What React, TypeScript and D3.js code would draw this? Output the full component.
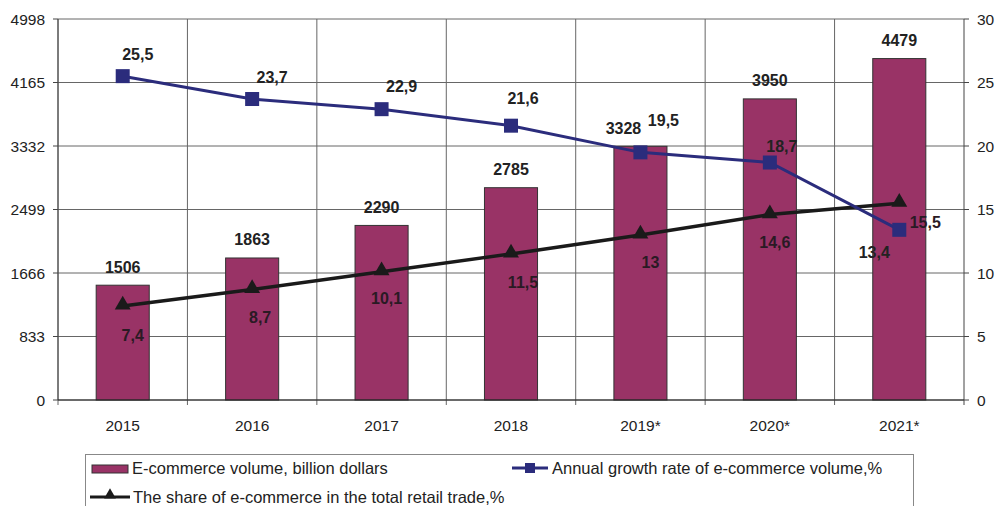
import React from 'react';
import * as d3 from 'd3';

const years = ['2015', '2016', '2017', '2018', '2019*', '2020*', '2021*'];
const volume = [1506, 1863, 2290, 2785, 3328, 3950, 4479];
const growth = [25.5, 23.7, 22.9, 21.6, 19.5, 18.7, 13.4];
const share = [7.4, 8.7, 10.1, 11.5, 13, 14.6, 15.5];
const leftTicks = [0, 833, 1666, 2499, 3332, 4165, 4998];
const rightTicks = [0, 5, 10, 15, 20, 25, 30];

// hand-placed label nudges (centre of text relative to the point), as in the source
const barNudge = [0, 0, 0, 0, -17, 0, 0];
const growthNudge = [[15, -22], [20, -22], [20, -23], [12, -27], [23, -32], [12, -16], [-25, 23]];
const shareNudge = [[10, 29], [8, 28], [5, 27], [12, 29], [10, 28], [5, 28], [26, 19]];

const W = 999;
const H = 506;
const m = { left: 58, right: 964, top: 19, bottom: 400 };

const BAR = '#993366';
const BLUE = '#2b2c7c';
const BLACK = '#1a1a1a';
const FONT = '"Liberation Sans", Arial, sans-serif';

const fmt = (v: number) => String(v).replace('.', ',');

const App: React.FC = () => {
  const x = d3.scaleBand<string>().domain(years).range([m.left, m.right]).padding(0);
  const yL = d3.scaleLinear().domain([0, 4998]).range([m.bottom, m.top]);
  const yR = d3.scaleLinear().domain([0, 30]).range([m.bottom, m.top]);
  const bw = x.bandwidth() * 0.41;
  const cx = (i: number) => (x(years[i]) as number) + x.bandwidth() / 2;

  const line = d3.line<number>().x((_, i) => cx(i)).y((d) => yR(d));
  const tri = d3.symbol().type(d3.symbolTriangle).size(110)();

  return (
    <svg
      width={W}
      height={H}
      style={{ position: 'absolute', left: 0, top: 0, background: '#fff' }}
      fontFamily={FONT}
    >
      {/* gridlines */}
      {leftTicks.map((t) => (
        <line key={'h' + t} x1={m.left} x2={m.right} y1={yL(t)} y2={yL(t)} stroke="#666" strokeWidth={1} />
      ))}
      {years.map((y) => (
        <line
          key={'v' + y}
          x1={x(y) as number}
          x2={x(y) as number}
          y1={m.top}
          y2={m.bottom + 5}
          stroke="#666"
          strokeWidth={1}
        />
      ))}

      {/* bars */}
      {volume.map((v, i) => (
        <rect
          key={'b' + i}
          x={cx(i) - bw / 2}
          y={yL(v)}
          width={bw}
          height={m.bottom - yL(v)}
          fill={BAR}
          stroke="#333"
          strokeWidth={1}
        />
      ))}

      {/* axes */}
      <line x1={m.left} x2={m.left} y1={m.top} y2={m.bottom} stroke="#444" />
      <line x1={m.right} x2={m.right} y1={m.top} y2={m.bottom} stroke="#444" />
      <line x1={m.left} x2={m.right} y1={m.bottom} y2={m.bottom} stroke="#222" />
      <line x1={m.right} x2={m.right} y1={m.bottom} y2={m.bottom + 5} stroke="#444" />
      {leftTicks.map((t) => (
        <g key={'lt' + t}>
          <line x1={m.left - 5} x2={m.left} y1={yL(t)} y2={yL(t)} stroke="#444" />
          <text x={m.left - 13} y={yL(t) + 5.5} textAnchor="end" fontSize={15.5} fill="#222">
            {t}
          </text>
        </g>
      ))}
      {rightTicks.map((t) => (
        <g key={'rt' + t}>
          <line x1={m.right} x2={m.right + 5} y1={yR(t)} y2={yR(t)} stroke="#444" />
          <text x={m.right + 13} y={yR(t) + 5.5} textAnchor="start" fontSize={15.5} fill="#222">
            {t}
          </text>
        </g>
      ))}
      {years.map((y, i) => (
        <text key={'xl' + y} x={cx(i)} y={430.5} textAnchor="middle" fontSize={15.5} fill="#222">
          {y}
        </text>
      ))}

      {/* lines */}
      <path d={line(share) || ''} fill="none" stroke={BLACK} strokeWidth={3.5} />
      <path d={line(growth) || ''} fill="none" stroke={BLUE} strokeWidth={3} />
      {share.map((v, i) => (
        <path key={'tr' + i} d={tri || ''} transform={`translate(${cx(i)},${yR(v) - 1})`} fill={BLACK} />
      ))}
      {growth.map((v, i) => (
        <rect key={'sq' + i} x={cx(i) - 7} y={yR(v) - 7} width={14} height={14} fill={BLUE} />
      ))}

      {/* data labels */}
      {volume.map((v, i) => (
        <text
          key={'bl' + i}
          x={cx(i) + barNudge[i]}
          y={yL(v) - 18 + 5.5}
          textAnchor="middle"
          fontSize={16}
          fontWeight="bold"
          fill="#222"
        >
          {v}
        </text>
      ))}
      {growth.map((v, i) => (
        <text
          key={'gl' + i}
          x={cx(i) + growthNudge[i][0]}
          y={yR(v) + growthNudge[i][1] + 5.5}
          textAnchor="middle"
          fontSize={16}
          fontWeight="bold"
          fill="#222"
        >
          {fmt(v)}
        </text>
      ))}
      {share.map((v, i) => (
        <text
          key={'sl' + i}
          x={cx(i) + shareNudge[i][0]}
          y={yR(v) + shareNudge[i][1] + 5.5}
          textAnchor="middle"
          fontSize={16}
          fontWeight="bold"
          fill="#2a1a24"
        >
          {fmt(v)}
        </text>
      ))}

      {/* legend */}
      <rect x={85.5} y={454.5} width={828} height={60} fill="#fff" stroke="#888" />
      <rect x={92} y={465} width={36} height={8} fill={BAR} stroke="#333" />
      <text x={132} y={474} fontSize={16.5} fill="#222">
        E-commerce volume, billion dollars
      </text>
      <line x1={512} x2={548} y1={468} y2={468} stroke={BLUE} strokeWidth={3} />
      <rect x={525} y={463} width={10} height={10} fill={BLUE} />
      <text x={552} y={474} fontSize={16.5} fill="#222">
        Annual growth rate of e-commerce volume,%
      </text>
      <line x1={90} x2={130} y1={497} y2={497} stroke={BLACK} strokeWidth={3} />
      <path d={d3.symbol().type(d3.symbolTriangle).size(60)() || ''} transform="translate(110,495)" fill={BLACK} />
      <text x={133} y={503} fontSize={16.5} fill="#222">
        The share of e-commerce in the total retail trade,%
      </text>
    </svg>
  );
};

export default App;
